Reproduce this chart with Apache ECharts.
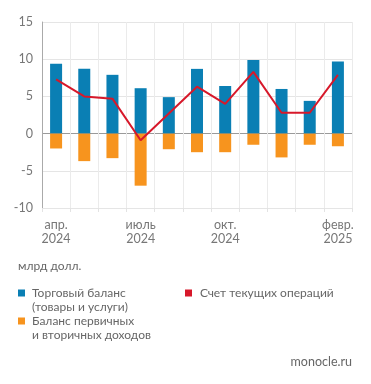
<!DOCTYPE html>
<html><head><meta charset="utf-8">
<script src="https://cdn.jsdelivr.net/npm/echarts@6/dist/echarts.min.js"></script>
<style>html,body{margin:0;padding:0;background:#fff}#c{width:371px;height:384px}</style>
</head><body><div id="c"></div>
<script>
const categories = ['апр.\n2024','май','июнь','июль\n2024','авг.','сент.','окт.\n2024','нояб.','дек.','янв.','февр.\n2025'];
const shownLabels = [0,3,6,10];
const tradeBalance = [9.4,8.7,7.9,6.1,4.9,8.7,6.4,9.9,6.0,4.4,9.7];
const incomeBalance = [-2.0,-3.7,-3.3,-7.0,-2.1,-2.5,-2.5,-1.5,-3.2,-1.5,-1.7];
const currentAccount = [7.3,5.0,4.7,-0.9,2.7,6.3,4.0,8.3,2.8,2.8,7.9];
const yTicks = [-10,-5,0,5,10,15];
const names = {
  trade: 'Торговый баланс\n(товары и услуги)',
  income: 'Баланс первичных\nи вторичных доходов',
  current: 'Счет текущих операций'
};
const font = 'Lato, sans-serif';
const topSquare = 'path://M0 0H0.01 M0 3.5H7V10.5H0Z M0 28H0.01';
const chart = echarts.init(document.getElementById('c'), null, {renderer:'canvas'});
chart.setOption({
  animation:false,
  textStyle:{fontFamily:font},
  grid:{left:42,right:19,top:22,bottom:176,containLabel:false},
  xAxis:{type:'category',data:categories,boundaryGap:true,
    axisLine:{show:false,onZero:false},
    axisTick:{show:true,length:4,lineStyle:{color:'#e3e3e3'}},
    splitLine:{show:true,lineStyle:{color:'#ebebeb',width:1}},
    axisLabel:{interval:0,margin:10,color:'#777',fontSize:12.5,lineHeight:14,fontFamily:font,
      formatter:(v,i)=>shownLabels.includes(i)?v:''}},
  yAxis:{type:'value',min:yTicks[0],max:yTicks[yTicks.length-1],interval:5,
    axisLine:{show:true,lineStyle:{color:'#aaa'}},
    axisTick:{show:false},
    axisLabel:{color:'#777',fontSize:12.5,margin:9,fontFamily:font},
    splitLine:{lineStyle:{color:['#e5e5e5','#e5e5e5','#9a9a9a','#e5e5e5','#e5e5e5','#e5e5e5'],width:1}}},
  legend:[
    {orient:'vertical',left:13,top:281,itemWidth:7,itemHeight:28,itemGap:0,icon:topSquare,
     itemStyle:{borderWidth:0},
     data:[names.trade,names.income],
     textStyle:{color:'#666',fontSize:12,lineHeight:14,padding:[0,0,0,2],fontFamily:font}},
    {orient:'vertical',left:180,top:281,itemWidth:7,itemHeight:7,icon:'rect',
     itemStyle:{borderWidth:0},
     data:[names.current],
     textStyle:{color:'#666',fontSize:12,lineHeight:14,padding:[0,0,0,3],fontFamily:font}}
  ],
  graphic:[
    {type:'text',left:18,top:260,style:{text:'млрд долл.',fill:'#666',font:'12px '+font}},
    {type:'text',right:19,top:355,style:{text:'monocle.ru',fill:'#666',font:'12.5px '+font}}
  ],
  series:[
    {name:names.trade,type:'bar',stack:'a',data:tradeBalance,barWidth:12,itemStyle:{color:'#0a7fb4'}},
    {name:names.income,type:'bar',stack:'a',data:incomeBalance,barWidth:12,itemStyle:{color:'#f7941e'}},
    {name:names.current,type:'line',data:currentAccount,symbol:'none',lineStyle:{color:'#d7182a',width:2},itemStyle:{color:'#d7182a'},z:5}
  ]
});
</script></body></html>
